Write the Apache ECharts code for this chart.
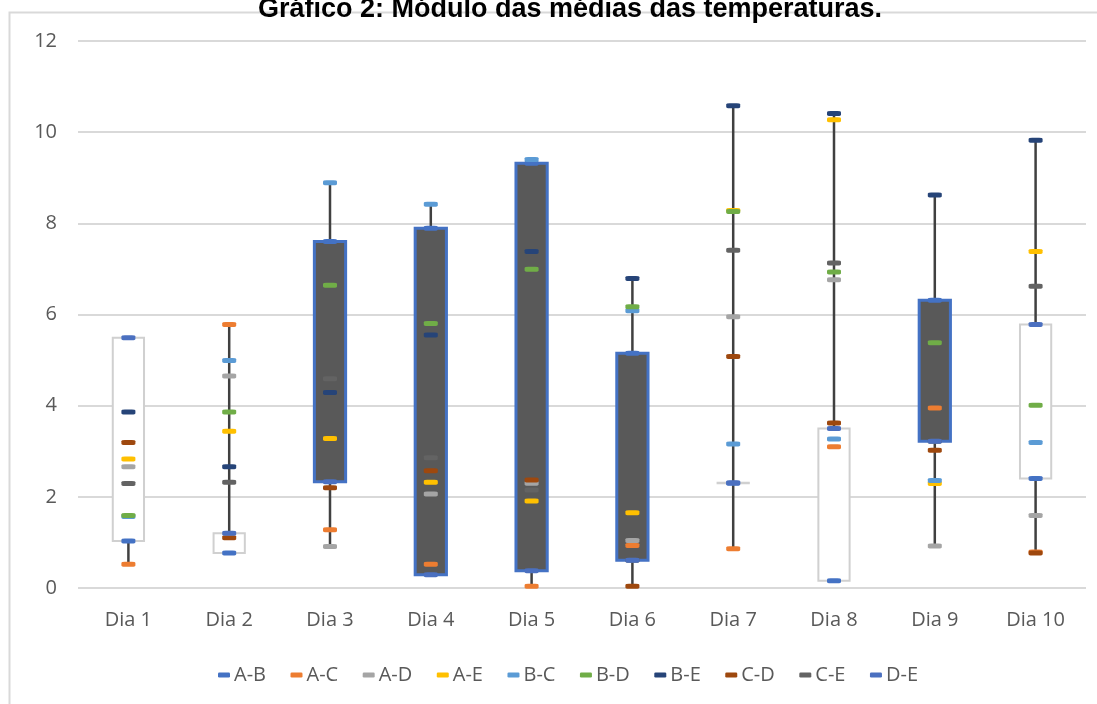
<!DOCTYPE html>
<html>
<head>
<meta charset="utf-8">
<script src="https://cdn.jsdelivr.net/npm/echarts@6/dist/echarts.min.js"></script>
<style>
html,body{margin:0;padding:0;background:#fff;}
#chart{width:1097px;height:704px;}
</style>
</head>
<body>
<div id="chart"></div>
<script>
const categories = ['Dia 1','Dia 2','Dia 3','Dia 4','Dia 5','Dia 6','Dia 7','Dia 8','Dia 9','Dia 10'];
const AB = [1.03, 0.77, 7.60, 7.89, 9.32, 5.15, 2.30, 0.16, 6.31, 2.40];
const AC = [0.52, 5.78, 1.28, 0.52, 0.04, 0.93, 0.86, 3.10, 3.95, 0.79];
const AD = [2.66, 4.65, 0.91, 2.06, 2.30, 1.04, 5.95, 6.76, 0.92, 1.59];
const AE = [2.83, 3.44, 3.28, 2.32, 1.91, 1.65, 8.28, 10.27, 2.29, 7.38];
const BC = [1.57, 4.99, 8.89, 8.42, 9.40, 6.08, 3.16, 3.27, 2.36, 3.19];
const BD = [1.59, 3.86, 6.64, 5.80, 6.99, 6.17, 8.26, 6.93, 5.38, 4.01];
const BE = [3.86, 2.66, 4.29, 5.55, 7.38, 6.79, 10.58, 10.41, 8.62, 9.82];
const CD = [3.19, 1.10, 2.20, 2.57, 2.37, 0.04, 5.08, 3.62, 3.02, 0.77];
const CE = [2.29, 2.32, 4.59, 2.86, 2.15, 0.61, 7.41, 7.13, 3.22, 6.62];
const DE = [5.49, 1.20, 2.33, 0.29, 0.38, 0.61, 2.31, 3.50, 3.22, 5.78];
const seriesNames = ['A-B','A-C','A-D','A-E','B-C','B-D','B-E','C-D','C-E','D-E'];
const seriesData = [AB, AC, AD, AE, BC, BD, BE, CD, CE, DE];
const colors = ['#4472C4','#ED7D31','#A5A5A5','#FFC000','#5B9BD5','#70AD47','#264478','#9E480E','#636363','#4B70C0'];
const yTicks = [0, 2, 4, 6, 8, 10, 12];

// high-low + up/down bars built from the series
const stockData = categories.map((c, i) => {
  const vals = seriesData.map(s => s[i]);
  return [i, Math.min(...vals), Math.max(...vals), AB[i], DE[i]];
});

const chart = echarts.init(document.getElementById('chart'));
const font = 'Open Sans';

const option = {
  backgroundColor: '#fff',
  animation: false,
  title: {
    text: 'Gráfico 2: Módulo das médias das temperaturas.',
    left: 565, textAlign: 'center', top: -9,
    textStyle: {fontFamily: 'Liberation Sans', fontWeight: 'bold', fontSize: 27, color: '#000'}
  },
  graphic: [{
    type: 'rect', silent: true, z: -10,
    shape: {x: 9.5, y: 12.5, width: 1200, height: 800},
    style: {fill: '#fff', stroke: '#D9D9D9', lineWidth: 2}
  }],
  grid: {left: 78, right: 11, top: 41, bottom: 116, containLabel: false},
  legend: {
    bottom: 14, left: 213,
    itemWidth: 12, itemHeight: 5, itemGap: 24.5, icon: 'roundRect',
    textStyle: {fontFamily: font, fontSize: 20, color: '#595959', padding: [0,0,0,-1]},
    data: seriesNames
  },
  xAxis: {
    type: 'category', data: categories,
    axisLine: {show: false}, axisTick: {show: false},
    axisLabel: {fontFamily: font, fontSize: 20, color: '#595959', margin: 22}
  },
  yAxis: {
    type: 'value', min: 0, max: 12, interval: 2,
    axisLine: {show: false}, axisTick: {show: false},
    axisLabel: {fontFamily: font, fontSize: 20, color: '#595959', margin: 21,
      formatter: v => yTicks.includes(v) ? String(v) : ''},
    splitLine: {lineStyle: {color: '#D9D9D9', width: 2}}
  },
  series: [{
    type: 'custom', z: 2, silent: true,
    data: stockData,
    encode: {x: 0, y: [1, 2, 3, 4]},
    renderItem: function (params, api) {
      const x = api.value(0);
      const lo = api.coord([x, api.value(1)]);
      const hi = api.coord([x, api.value(2)]);
      const op = api.coord([x, api.value(3)]);
      const cl = api.coord([x, api.value(4)]);
      const bw = api.size([1, 0])[0] * 0.31;
      const up = api.value(4) >= api.value(3);
      const top = Math.min(op[1], cl[1]);
      const h = Math.max(Math.abs(op[1] - cl[1]), 0.5);
      return {
        type: 'group',
        children: [
          {type: 'line', shape: {x1: lo[0], y1: lo[1], x2: hi[0], y2: hi[1]},
           style: {stroke: '#404040', lineWidth: 2.5}},
          {type: 'rect', shape: {x: op[0] - bw / 2, y: top, width: bw, height: h},
           style: up ? {fill: '#fff', stroke: '#D0D0D0', lineWidth: 2}
                     : {fill: '#595959', stroke: '#4472C4', lineWidth: 3}}
        ]
      };
    }
  }].concat(seriesNames.map((n, k) => ({
    name: n, type: 'scatter', z: 5,
    data: seriesData[k],
    symbol: 'roundRect', symbolSize: [14, 5],
    itemStyle: {color: colors[k], opacity: 1}
  })))
};
chart.setOption(option);
</script>
</body>
</html>
